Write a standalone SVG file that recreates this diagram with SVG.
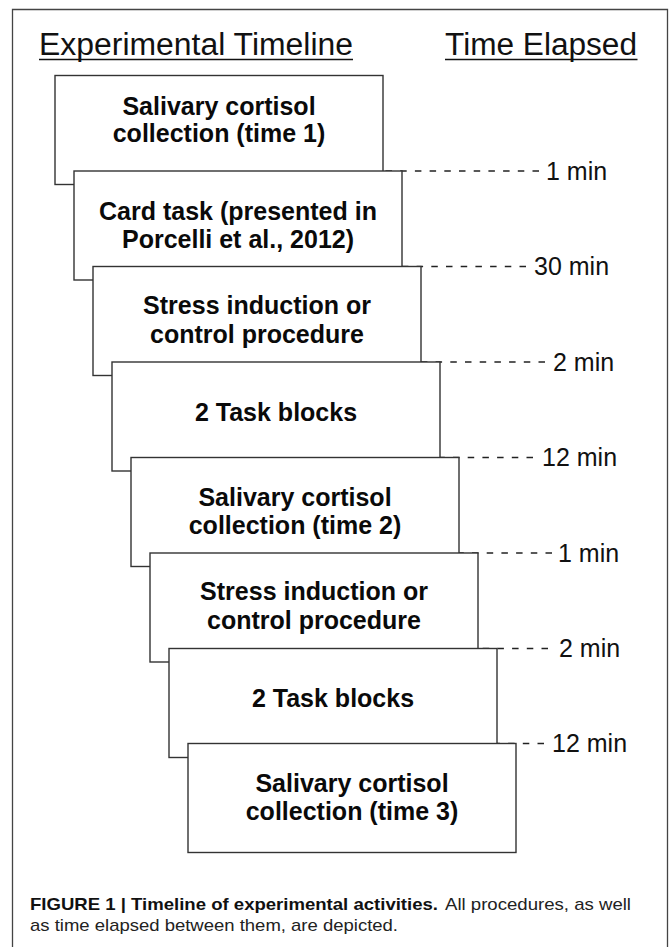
<svg xmlns="http://www.w3.org/2000/svg" width="671" height="947" viewBox="0 0 671 947">
<style>
.frame{fill:none;stroke:#444;stroke-width:1.3}
.hdr{font-family:"Liberation Sans",Arial,sans-serif;font-size:31px;fill:#111}
.ul{stroke:#111;stroke-width:1.5}
.box{fill:#fff;stroke:#333;stroke-width:1.4}
.bt{font-family:"Liberation Sans",Arial,sans-serif;font-size:25px;font-weight:bold;fill:#0a0a0a;text-anchor:middle}
.dash{stroke:#222;stroke-width:1.6;stroke-dasharray:6.5 8.2;fill:none}
.lbl{font-family:"Liberation Sans",Arial,sans-serif;font-size:25px;fill:#111}
.capb{font-family:"Liberation Sans",Arial,sans-serif;font-size:17px;font-weight:bold;fill:#111}
.cap{font-family:"Liberation Sans",Arial,sans-serif;font-size:17px;fill:#222}
</style>
<rect width="671" height="947" fill="#fff"/>
<path class="frame" d="M12.5,960 V9.5 H667.5 V960"/>
<g id="headers">
<text class="hdr" x="39" y="55" textLength="314" lengthAdjust="spacingAndGlyphs">Experimental Timeline</text>
<line class="ul" x1="39" y1="59.5" x2="353" y2="59.5"/>
<text class="hdr" x="445" y="55" textLength="192" lengthAdjust="spacingAndGlyphs">Time Elapsed</text>
<line class="ul" x1="445" y1="59.5" x2="637.5" y2="59.5"/>
</g>
<g id="connectors">
<line class="dash" x1="539" y1="171" x2="383" y2="171"/>
<line class="dash" x1="526" y1="266.5" x2="402" y2="266.5"/>
<line class="dash" x1="545" y1="362" x2="421" y2="362"/>
<line class="dash" x1="533" y1="457.5" x2="440" y2="457.5"/>
<line class="dash" x1="552" y1="553" x2="459" y2="553"/>
<line class="dash" x1="548" y1="648.5" x2="478" y2="648.5"/>
<line class="dash" x1="544" y1="743.5" x2="497" y2="743.5"/>
</g>
<g id="labels">
<text class="lbl" x="546" y="179.5">1 min</text>
<text class="lbl" x="534" y="275">30 min</text>
<text class="lbl" x="553" y="370.5">2 min</text>
<text class="lbl" x="542" y="466">12 min</text>
<text class="lbl" x="558" y="561.5">1 min</text>
<text class="lbl" x="559" y="657">2 min</text>
<text class="lbl" x="552" y="752">12 min</text>
</g>
<g id="node1">
<rect class="box" x="55" y="75.5" width="328" height="109"/>
<text class="bt" x="219" y="115">Salivary cortisol</text>
<text class="bt" x="219" y="142">collection (time 1)</text>
</g>
<g id="node2">
<rect class="box" x="74" y="171" width="328" height="109"/>
<text class="bt" x="238" y="219.5">Card task (presented in</text>
<text class="bt" x="238" y="247.5">Porcelli et al., 2012)</text>
</g>
<g id="node3">
<rect class="box" x="93" y="266.5" width="328" height="109"/>
<text class="bt" x="257" y="314">Stress induction or</text>
<text class="bt" x="257" y="342.5">control procedure</text>
</g>
<g id="node4">
<rect class="box" x="112" y="362" width="328" height="109"/>
<text class="bt" x="276" y="420.5">2 Task blocks</text>
</g>
<g id="node5">
<rect class="box" x="131" y="457.5" width="328" height="109"/>
<text class="bt" x="295" y="506">Salivary cortisol</text>
<text class="bt" x="295" y="533.5">collection (time 2)</text>
</g>
<g id="node6">
<rect class="box" x="150" y="553" width="328" height="109"/>
<text class="bt" x="314" y="600">Stress induction or</text>
<text class="bt" x="314" y="628.5">control procedure</text>
</g>
<g id="node7">
<rect class="box" x="169" y="648.5" width="328" height="109"/>
<text class="bt" x="333" y="706.5">2 Task blocks</text>
</g>
<g id="node8">
<rect class="box" x="188" y="743.5" width="328" height="109"/>
<text class="bt" x="352" y="792">Salivary cortisol</text>
<text class="bt" x="352" y="820">collection (time 3)</text>
</g>
<g id="caption">
<text class="capb" x="30" y="909.5" textLength="408" lengthAdjust="spacingAndGlyphs">FIGURE 1 | Timeline of experimental activities.</text>
<text class="cap" x="445" y="909.5" textLength="186" lengthAdjust="spacingAndGlyphs">All procedures, as well</text>
<text class="cap" x="30" y="930.5" textLength="368" lengthAdjust="spacingAndGlyphs">as time elapsed between them, are depicted.</text>
</g>
</svg>
